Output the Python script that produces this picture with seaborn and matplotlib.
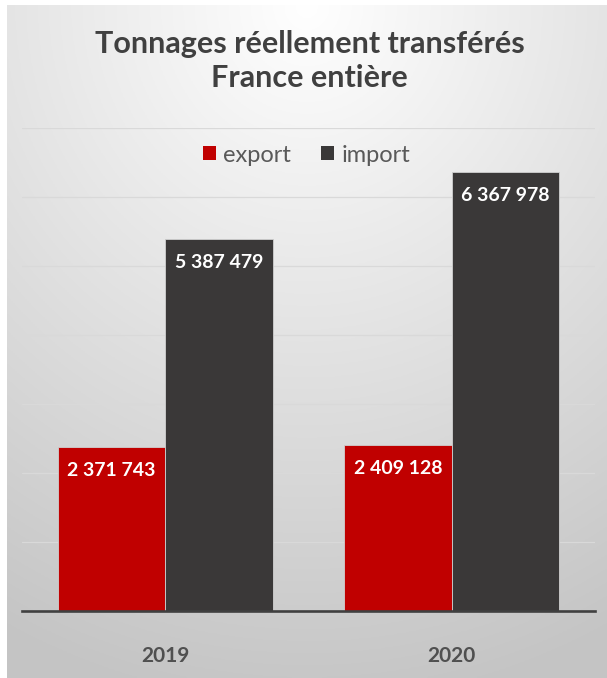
import pandas as pd
import seaborn as sns
import matplotlib.pyplot as plt
import numpy as np
from matplotlib.patches import Patch

# Data
years = ['2019', '2020']
export_t = [2371743, 2409128]
import_t = [5387479, 6367978]
series = ['export', 'import']
colors = {'export': '#c00000', 'import': '#3a3838'}

df = pd.DataFrame({
    'year': years * 2,
    'flux': ['export'] * 2 + ['import'] * 2,
    'tonnes': export_t + import_t,
})

sns.set_theme(style='white')
plt.rcParams['font.family'] = ['Lato', 'DejaVu Sans']

fig = plt.figure(figsize=(6.07, 6.78), dpi=100)
fig.patch.set_facecolor('white')

# radial grey gradient background (white top centre -> grey corners)
bg = fig.add_axes([7 / 607, 0, 1 - 7 / 607, 673 / 678], zorder=-5)
yy, xx = np.mgrid[0:1:300j, 0:1:300j]
r = np.sqrt(((xx - 0.5) * 1.0) ** 2 + (yy * 1.05) ** 2)
shade = 1.0 - 0.23 * np.clip(r, 0, 1.1) / 1.1
bg.imshow(np.dstack([shade] * 3), extent=[0, 1, 0, 1], aspect='auto')
bg.axis('off')

ax = fig.add_axes([22 / 607, 67 / 678, 573 / 607, 483 / 678])
ax.patch.set_alpha(0)

sns.barplot(data=df, x='year', y='tonnes', hue='flux', hue_order=series,
            palette=colors, width=0.75, saturation=1, ax=ax, zorder=3,
            edgecolor='#d0d0d0', linewidth=0.6)

ax.set_ylim(0, 7000000)
ax.set_xlim(-0.5, 1.5)
ax.set_yticks(np.arange(0, 7000001, 1000000))
ax.yaxis.grid(True, color='#d9d9d9', linewidth=0.9)
ax.set_axisbelow(True)
ax.tick_params(axis='y', left=False, labelleft=False)
ax.tick_params(axis='x', bottom=False, pad=19, labelsize=15, labelcolor='#505050')
for lab in ax.get_xticklabels():
    lab.set_fontweight('bold')
ax.set_xlabel('')
ax.set_ylabel('')
for s in ['top', 'right', 'left']:
    ax.spines[s].set_visible(False)
ax.spines['bottom'].set_color('#404040')
ax.spines['bottom'].set_linewidth(1.9)
ax.spines['bottom'].set_zorder(5)

# value labels inside the bars, near the top
for cont in ax.containers:
    for bar in cont:
        h = bar.get_height()
        txt = f'{int(round(h)):,}'.replace(',', ' ')
        ax.annotate(txt, (bar.get_x() + bar.get_width() / 2, h),
                    xytext=(0, -17), textcoords='offset points',
                    ha='center', va='center', color='white',
                    fontsize=14, fontweight='bold', zorder=6)

ax.get_legend().remove()
handles = [Patch(facecolor=colors[s], edgecolor='none', label=s) for s in series]
fig.legend(handles=handles, loc='center', bbox_to_anchor=(0.505, 1 - 155 / 678),
           ncol=2, frameon=False, fontsize=17, labelcolor='#595959',
           handlelength=0.55, handleheight=0.55, handletextpad=0.3, columnspacing=1.3)

fig.text(0.51, 1 - 61 / 678, 'Tonnages réellement transférés\nFrance entière',
         ha='center', va='center', fontsize=22, fontweight='bold',
         color='#404040', linespacing=1.25)

fig.savefig('out.png', dpi=100)
